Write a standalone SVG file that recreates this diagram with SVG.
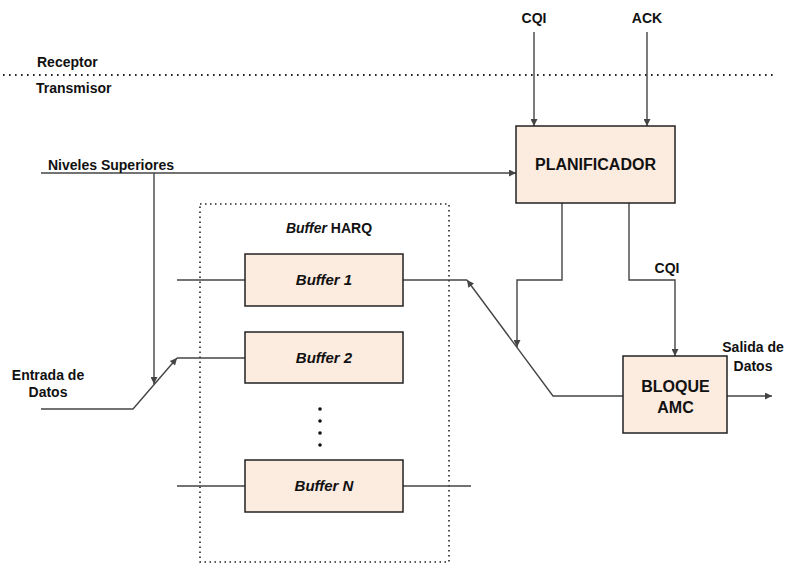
<svg xmlns="http://www.w3.org/2000/svg" width="786" height="563" viewBox="0 0 786 563">
<defs>
<style>
text{font-family:"Liberation Sans",Arial,sans-serif;font-weight:bold;fill:#111}
.s{font-size:14px}
.l{font-size:16px}
.bi{font-size:15px;font-style:italic}
.box{fill:#FCEBDF;stroke:#222;stroke-width:1.5}
.ln{fill:none;stroke:#444;stroke-width:1.4}
.dot{fill:none;stroke:#222;stroke-width:1.8;stroke-dasharray:1.6 4.4}
.dot2{fill:none;stroke:#222;stroke-width:1.6;stroke-dasharray:1.5 3.5}
</style>
<marker id="arr" viewBox="0 0 10 10" refX="10" refY="5" markerWidth="9" markerHeight="7" markerUnits="userSpaceOnUse" orient="auto">
<path d="M0,0 L10,5 L0,10 z" fill="#444"/>
</marker>
</defs>
<rect width="786" height="563" fill="#fff"/>

<g id="separator">
<line class="dot" x1="3" y1="75" x2="775" y2="75"/>
<text class="s" x="37" y="67">Receptor</text>
<text class="s" x="36" y="93">Transmisor</text>
</g>

<g id="harq-group">
<rect class="dot2" x="200" y="204" width="249" height="358"/>
<text class="s" x="329" y="233" text-anchor="middle"><tspan font-style="italic">Buffer</tspan> HARQ</text>
<g fill="#111">
<circle cx="320" cy="409" r="1.8"/>
<circle cx="320" cy="421" r="1.8"/>
<circle cx="320" cy="433" r="1.8"/>
<circle cx="320" cy="445" r="1.8"/>
</g>
</g>

<g id="connectors">
<!-- CQI, ACK into planificador -->
<line class="ln" x1="534" y1="32" x2="534" y2="126" marker-end="url(#arr)"/>
<line class="ln" x1="647" y1="32" x2="647" y2="126" marker-end="url(#arr)"/>
<!-- Niveles superiores -->
<line class="ln" x1="41" y1="173" x2="516" y2="173" marker-end="url(#arr)"/>
<line class="ln" x1="154" y1="173" x2="154" y2="384" marker-end="url(#arr)"/>
<!-- Entrada de datos switch -->
<polyline class="ln" points="41,409 133,409 177,358" marker-end="url(#arr)"/>
<line class="ln" x1="177" y1="358" x2="245" y2="358"/>
<!-- buffer lines -->
<line class="ln" x1="177" y1="280" x2="245" y2="280"/>
<line class="ln" x1="403" y1="280" x2="467" y2="280"/>
<line class="ln" x1="177" y1="486" x2="245" y2="486"/>
<line class="ln" x1="403" y1="486" x2="471" y2="486"/>
<!-- output switch -->
<polyline class="ln" points="623,396 553,396 467,280" marker-end="url(#arr)"/>
<!-- planificador to switch -->
<polyline class="ln" points="562,203 562,280 517,280 517,347" marker-end="url(#arr)"/>
<!-- planificador to AMC -->
<polyline class="ln" points="629,203 629,280 675,280 675,356" marker-end="url(#arr)"/>
<!-- output -->
<line class="ln" x1="727" y1="396" x2="772" y2="396" marker-end="url(#arr)"/>
<text class="s" x="534" y="23" text-anchor="middle">CQI</text>
<text class="s" x="647" y="23" text-anchor="middle">ACK</text>
<text class="s" x="48" y="170">Niveles Superiores</text>
<text class="s" x="48" y="380" text-anchor="middle">Entrada de</text>
<text class="s" x="48" y="397" text-anchor="middle">Datos</text>
<text class="s" x="667" y="273" text-anchor="middle">CQI</text>
<text class="s" x="753" y="352" text-anchor="middle">Salida de</text>
<text class="s" x="753" y="371" text-anchor="middle">Datos</text>
</g>

<g id="planificador">
<rect class="box" x="516" y="126" width="159" height="77"/>
<text class="l" x="595.5" y="170" text-anchor="middle">PLANIFICADOR</text>
</g>

<g id="buffer1">
<rect class="box" x="245" y="254" width="158" height="52"/>
<text class="bi" x="324" y="285" text-anchor="middle">Buffer 1</text>
</g>

<g id="buffer2">
<rect class="box" x="245" y="332" width="158" height="51"/>
<text class="bi" x="324" y="363" text-anchor="middle">Buffer 2</text>
</g>

<g id="bufferN">
<rect class="box" x="245" y="460" width="158" height="52"/>
<text class="bi" x="324" y="491" text-anchor="middle">Buffer N</text>
</g>

<g id="bloque-amc">
<rect class="box" x="623" y="356" width="104" height="77"/>
<text class="l" x="675.5" y="392" text-anchor="middle">BLOQUE</text>
<text class="l" x="675.5" y="413" text-anchor="middle">AMC</text>
</g>
</svg>
